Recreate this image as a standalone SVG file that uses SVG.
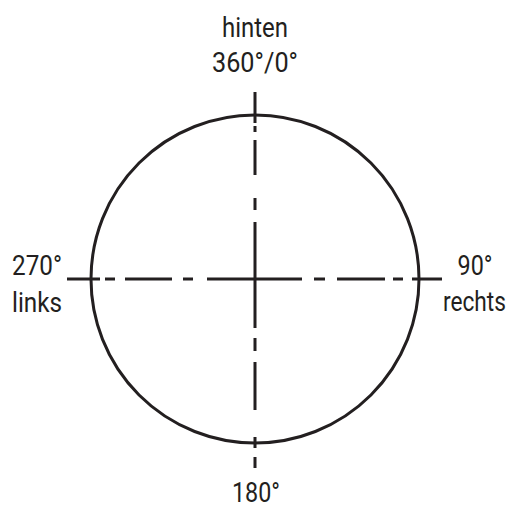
<svg xmlns="http://www.w3.org/2000/svg" width="512" height="508" viewBox="0 0 512 508">
<style>
.ln{stroke:#231f20;stroke-width:3;fill:none}
.t{font-family:Roboto,"Liberation Sans",sans-serif;font-size:27px;fill:#231f20;text-anchor:middle}
</style>
<rect width="512" height="508" fill="#fff"/>
<g id="circle"><circle class="ln" cx="255" cy="279" r="164"/></g>
<g id="connectors">
<path class="ln" d="M255 92V123M255 126V132M255 140V175M255 198V210M255 222V328M255 338V351M255 362V410M255 437V448M255 457V468"/>
<path class="ln" d="M67 279H100M105 279H115M125 279H172M183 279H193M207 279H302M314 279H325M337 279H385M393 279H403M412 279H442"/>
</g>
<g id="label-top"><text class="t" x="255" y="37" textLength="66" lengthAdjust="spacingAndGlyphs">hinten</text><text class="t" x="255" y="72" textLength="86" lengthAdjust="spacingAndGlyphs">360°/0°</text></g>
<g id="label-left"><text class="t" x="37" y="275" textLength="50" lengthAdjust="spacingAndGlyphs">270°</text><text class="t" x="37" y="312" textLength="50" lengthAdjust="spacingAndGlyphs">links</text></g>
<g id="label-right"><text class="t" x="475" y="275" textLength="35" lengthAdjust="spacingAndGlyphs">90°</text><text class="t" x="506" y="311" style="text-anchor:end" textLength="63" lengthAdjust="spacingAndGlyphs">rechts</text></g>
<g id="label-bottom"><text class="t" x="256" y="502" textLength="48" lengthAdjust="spacingAndGlyphs">180°</text></g>
</svg>
